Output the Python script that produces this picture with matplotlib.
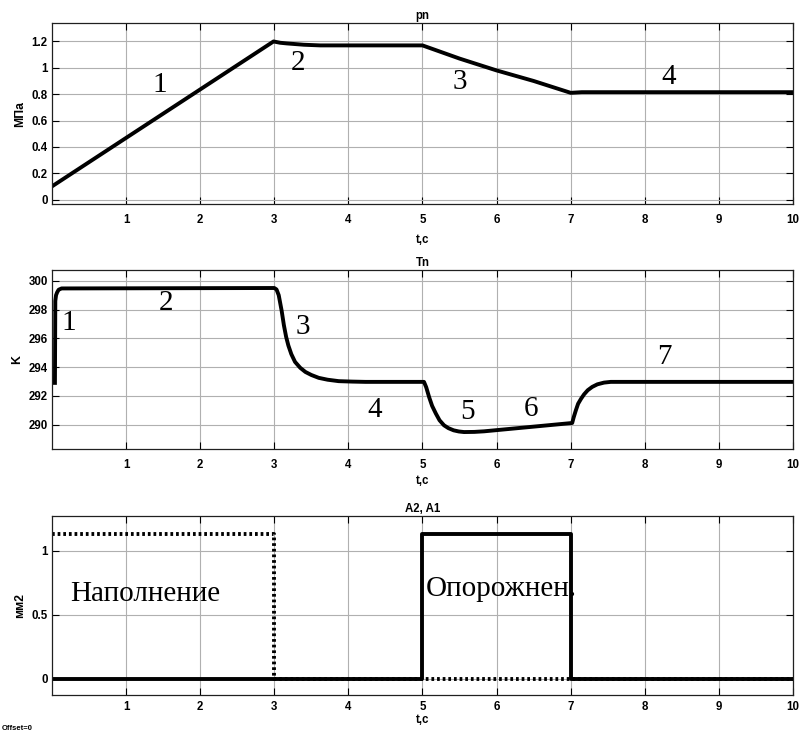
import matplotlib
matplotlib.use('Agg')
import matplotlib.pyplot as plt
from matplotlib.ticker import FuncFormatter

# pressure pn, MPa
pn_t = [0.0, 2.99, 3.08, 3.17, 3.40, 3.62, 5.0, 5.25, 5.5, 5.75, 6.0, 6.25, 6.5, 6.75, 7.0, 7.15, 10.0]
pn_v = [0.10, 1.20, 1.19, 1.185, 1.175, 1.17, 1.17, 1.12, 1.07, 1.025, 0.98, 0.94, 0.90, 0.855, 0.81, 0.815, 0.815]

# temperature Tn, K
tn_t = [0.04, 0.045, 0.055, 0.07, 0.09, 0.13, 3.0, 3.03, 3.06, 3.10, 3.13, 3.16,
        3.19, 3.23, 3.28, 3.35, 3.42, 3.50, 3.60, 3.72, 3.87, 4.05, 4.23, 5.02,
        5.05, 5.09, 5.13, 5.18, 5.23, 5.29, 5.35, 5.42, 5.49, 5.56, 5.70, 5.83,
        7.02, 7.04, 7.07, 7.10, 7.14, 7.18, 7.23, 7.29, 7.36, 7.45, 7.54, 10.0]
tn_v = [292.9, 298.6, 299.0, 299.2, 299.38, 299.47, 299.5, 299.4, 299.0, 297.9,
        296.9, 296.1, 295.5, 294.9, 294.36, 293.95, 293.66, 293.45, 293.25, 293.12,
        293.02, 292.99, 292.97, 292.97, 292.6, 291.9, 291.3, 290.77, 290.3, 289.95,
        289.75, 289.6, 289.52, 289.48, 289.49, 289.53, 290.11, 290.5, 291.0, 291.45,
        291.8, 292.1, 292.39, 292.62, 292.8, 292.92, 292.97, 292.97]

# valve areas, mm2 (A1 - filling, A2 - emptying)
a1_t = [0.0, 3.0, 3.0, 10.0]
a1_v = [1.13, 1.13, 0.0, 0.0]
a2_t = [0.0, 5.0, 5.0, 7.0, 7.0, 10.0]
a2_v = [0.0, 0.0, 1.13, 1.13, 0.0, 0.0]

pn_marks = [("1", 1.46, 0.87), ("2", 3.32, 1.04), ("3", 5.51, 0.89), ("4", 8.32, 0.93)]
tn_marks = [("1", 0.22, 297.1), ("2", 1.54, 298.45), ("3", 3.39, 296.8), ("4", 4.36, 291.0),
            ("5", 5.61, 290.9), ("6", 6.47, 291.07), ("7", 8.27, 294.7)]

SANS = "Liberation Sans"
SERIF = "Liberation Serif"
TICK_FS = 8.3
LW = 2.8

fig = plt.figure(figsize=(8.02, 7.35), dpi=100)


def setup(ax, title, ylabel, yticks, ylim, xpad=7, labelpad=6):
    ax.set_xlim(0, 10)
    ax.set_ylim(*ylim)
    ax.set_xticks(range(1, 11))
    ax.set_yticks(yticks)
    ax.yaxis.set_major_formatter(FuncFormatter(lambda v, p: "%g" % v))
    ax.grid(True, color="#b0b0b0", linewidth=0.8)
    ax.set_axisbelow(True)
    ax.tick_params(direction="in", length=5, width=0.8, top=True, right=True,
                   labelsize=TICK_FS)
    ax.tick_params(axis="x", pad=xpad)
    ax.tick_params(axis="y", pad=3)
    for lab in ax.get_xticklabels() + ax.get_yticklabels():
        lab.set_fontfamily(SANS)
        lab.set_fontweight("bold")
    for sp in ax.spines.values():
        sp.set_linewidth(0.9)
        sp.set_color("#202020")
    ax.set_title(title, fontsize=TICK_FS, fontfamily=SANS, fontweight="bold", pad=3)
    ax.set_ylabel(ylabel, fontsize=TICK_FS + 0.5, fontfamily=SANS, fontweight="bold", labelpad=4)
    ax.set_xlabel("t,c", fontsize=TICK_FS, fontfamily=SANS, fontweight="bold", labelpad=labelpad)


ax1 = fig.add_axes([0.0648, 0.7224, 0.924, 0.2463])
ax2 = fig.add_axes([0.0648, 0.3891, 0.924, 0.2435])
ax3 = fig.add_axes([0.0648, 0.0544, 0.924, 0.2435])

setup(ax1, "pn", "МПа", [0, 0.2, 0.4, 0.6, 0.8, 1.0, 1.2], (-0.034, 1.34))
setup(ax2, "Tn", "K", [290, 292, 294, 296, 298, 300], (288.3, 300.75), labelpad=3)
setup(ax3, "A2, A1", "мм2", [0, 0.5, 1.0], (-0.127, 1.27), xpad=4, labelpad=1)

ax1.plot(pn_t, pn_v, color="black", linewidth=LW, solid_joinstyle="round")
ax2.plot(tn_t, tn_v, color="black", linewidth=LW, solid_joinstyle="round")
ax3.plot(a1_t, a1_v, color="black", linewidth=LW, linestyle=(0, (0.7, 0.75)))
ax3.plot(a2_t, a2_v, color="black", linewidth=LW)

for txt, x, y in pn_marks:
    ax1.text(x, y, txt, fontsize=21, fontfamily=SERIF, ha="center", va="center")
for txt, x, y in tn_marks:
    ax2.text(x, y, txt, fontsize=21, fontfamily=SERIF, ha="center", va="center")

ax3.text(0.24, 0.66, "Наполнение", fontsize=21, fontfamily=SERIF, ha="left", va="center")
ax3.text(5.04, 0.70, "Опорожнен.", fontsize=21, fontfamily=SERIF, ha="left", va="center")

fig.text(0.002, 0.004, "Offset=0", fontsize=5.5, fontfamily=SANS, fontweight="bold",
         ha="left", va="bottom")

fig.savefig("out.png", dpi=100)
